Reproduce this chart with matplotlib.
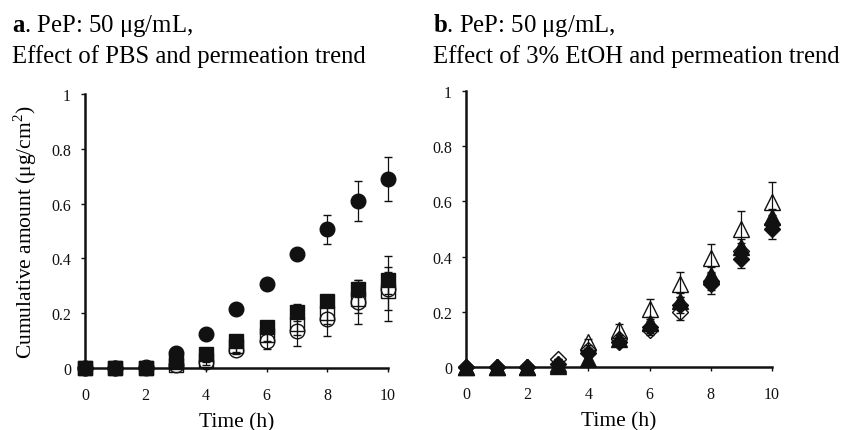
import numpy as np
import matplotlib
matplotlib.use("Agg")
import matplotlib.pyplot as plt

plt.rcParams["font.family"] = ["Liberation Serif", "DejaVu Serif"]
plt.rcParams["mathtext.fontset"] = "custom"
plt.rcParams["mathtext.rm"] = "Liberation Serif"
plt.rcParams["mathtext.bf"] = "Liberation Serif:bold"

hours = [0, 1, 2, 3, 4, 5, 6, 7, 8, 9, 10]

# panel a - PBS
a_filled_circle = [0, 0, 0, 0.055, 0.125, 0.215, 0.305, 0.415, 0.507, 0.608, 0.69]
a_filled_circle_err = [0, 0, 0, 0.005, 0.005, 0.005, 0.008, 0.017, 0.053, 0.073, 0.08]
a_filled_square = [0, 0, 0, 0.02, 0.05, 0.097, 0.148, 0.203, 0.245, 0.29, 0.32]
a_filled_square_err = [0, 0, 0, 0.005, 0.01, 0.01, 0.02, 0.03, 0.02, 0.03, 0.05]
a_open_circle = [0, 0, 0.005, 0.01, 0.02, 0.067, 0.10, 0.136, 0.178, 0.24, 0.29]
a_open_circle_err = [0, 0, 0, 0, 0.01, 0.015, 0.03, 0.055, 0.06, 0.08, 0.12]
a_open_square = [0, 0, 0, 0.01, 0.03, 0.08, 0.12, 0.16, 0.20, 0.25, 0.28]
a_open_square_err = [0, 0, 0, 0, 0.01, 0.02, 0.02, 0.04, 0.04, 0.05, 0.07]

# panel b - 3% EtOH
b_open_tri = [0, 0, 0, 0.01, 0.09, 0.135, 0.21, 0.30, 0.395, 0.50, 0.597]
b_open_tri_err = [0, 0, 0, 0, 0.01, 0.02, 0.035, 0.045, 0.05, 0.065, 0.075]
b_filled_tri = [0, 0, 0, 0.005, 0.03, 0.10, 0.16, 0.24, 0.333, 0.434, 0.542]
b_filled_tri_err = [0, 0, 0, 0, 0.01, 0.01, 0.02, 0.03, 0.03, 0.03, 0.03]
b_open_dia = [0, 0, 0, 0.03, 0.06, 0.10, 0.135, 0.20, 0.31, 0.42, 0.52]
b_open_dia_err = [0, 0, 0, 0, 0.01, 0.01, 0.02, 0.03, 0.03, 0.03, 0.03]
b_filled_dia = [0, 0, 0, 0.01, 0.05, 0.09, 0.145, 0.225, 0.30, 0.39, 0.50]
b_filled_dia_err = [0, 0, 0, 0, 0.01, 0.01, 0.02, 0.03, 0.035, 0.03, 0.035]

xticks = [0, 2, 4, 6, 8, 10]
yticks = [0, 0.2, 0.4, 0.6, 0.8, 1]
ytick_labels = ["0", "0.2", "0.4", "0.6", "0.8", "1"]

fig = plt.figure(figsize=(8.43, 4.31), dpi=100)
ax1 = fig.add_axes([0.1008, 0.1439, 0.3594, 0.6357])
ax2 = fig.add_axes([0.5528, 0.1462, 0.3630, 0.640])


def series(ax, y, err, marker, filled, ms):
    ax.errorbar(hours, y, yerr=err, fmt=marker, ms=ms,
                mfc="#111111" if filled else "none", mec="#111111", mew=1.0,
                ecolor="#111111", elinewidth=0.9, capsize=3, capthick=0.9,
                clip_on=False, zorder=3)


series(ax1, a_open_square, a_open_square_err, "s", False, 10.5)
series(ax1, a_open_circle, a_open_circle_err, "o", False, 10.5)
series(ax1, a_filled_square, a_filled_square_err, "s", True, 10.5)
series(ax1, a_filled_circle, a_filled_circle_err, "o", True, 10.5)

series(ax2, b_open_dia, b_open_dia_err, "D", False, 8)
series(ax2, b_open_tri, b_open_tri_err, "^", False, 11)
series(ax2, b_filled_dia, b_filled_dia_err, "D", True, 8)
series(ax2, b_filled_tri, b_filled_tri_err, "^", True, 11)

for ax in (ax1, ax2):
    ax.set_xlim(0, 10)
    ax.set_ylim(0, 1)
    ax.set_xticks(xticks)
    ax.set_yticks(yticks)
    ax.set_yticklabels(ytick_labels)
    for s in ("top", "right"):
        ax.spines[s].set_visible(False)
    for s in ("left", "bottom"):
        ax.spines[s].set_linewidth(1.8)
        ax.spines[s].set_color("#111111")
    ax.tick_params(direction="out", length=3, width=1, labelsize=11.5,
                   colors="#111111", pad=7)
    ax.tick_params(axis="x", pad=11)
    ax.set_xlabel("Time (h)", fontsize=15.5, labelpad=6)

ax1.set_ylabel("Cumulative amount (μg/cm$^2$)", fontsize=15.5, labelpad=9)

fig.text(0.014, 0.9258, r"$\mathbf{a}$. PeP: 50 μg/mL,", fontsize=17.8, va="baseline")
fig.text(0.014, 0.8538, "Effect of PBS and permeation trend", fontsize=17.8, va="baseline")
fig.text(0.514, 0.9258, r"$\mathbf{b}$. PeP: 50 μg/mL,", fontsize=17.8, va="baseline")
fig.text(0.514, 0.8538, "Effect of 3% EtOH and permeation trend", fontsize=17.8, va="baseline")

fig.savefig("out.png", dpi=100)
